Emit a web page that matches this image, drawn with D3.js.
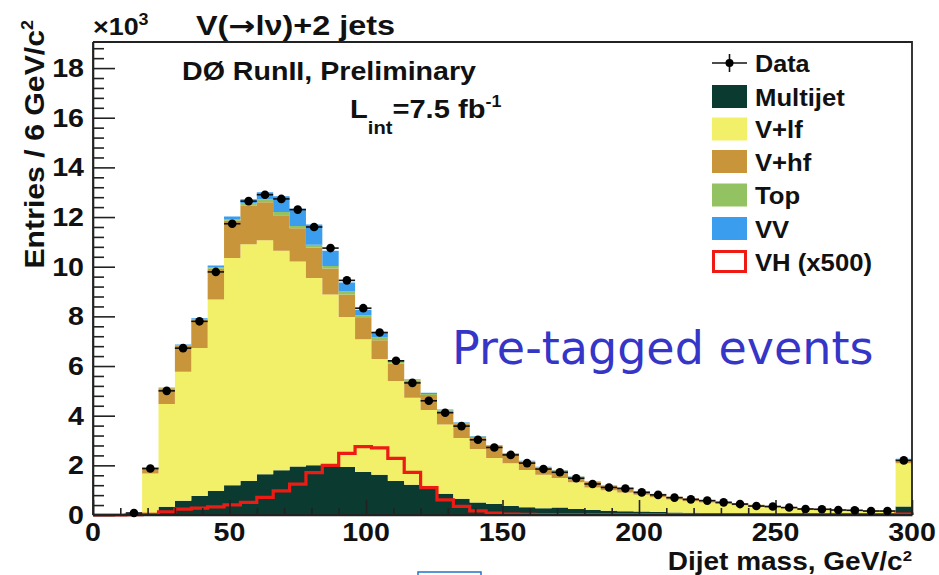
<!DOCTYPE html>
<html>
<head>
<meta charset="utf-8">
<script src="https://cdn.jsdelivr.net/npm/d3@7"></script>
<style>
  html, body { margin: 0; padding: 0; background: #fff; }
  svg { display: block; }
  text { font-family: "Liberation Sans", Arial, Helvetica, sans-serif; }
</style>
</head>
<body>
<svg id="chart" width="939" height="575"></svg>
<script>
// ---------------- DATA (thousands of entries per 6 GeV bin) ----------------
const binLow = [0,6,12,18,24,30,36,42,48,54,60,66,72,78,84,90,96,102,108,114,
  120,126,132,138,144,150,156,162,168,174,180,186,192,198,204,210,216,222,228,234,
  240,246,252,258,264,270,276,282,288,294];
const binWidth = 6;

const multijet = [0,0,0,0.03,0.33,0.57,0.77,0.97,1.20,1.37,1.64,1.80,1.95,2.00,2.04,1.93,1.73,1.62,1.37,1.22,
  1.07,0.86,0.65,0.50,0.44,0.36,0.31,0.27,0.30,0.24,0.20,0.17,0.15,0.14,0.12,0.10,0.09,0.08,0.07,0.06,
  0.05,0.05,0.04,0.04,0.03,0.03,0.03,0.02,0.02,0.34];
const vlf = [0,0,0.03,1.64,4.14,5.20,5.96,7.71,9.15,9.53,9.43,8.84,8.26,7.55,6.84,6.04,5.35,4.66,4.03,3.50,
  3.16,2.78,2.45,2.16,1.86,1.72,1.50,1.35,1.19,1.08,0.91,0.83,0.76,0.68,0.59,0.52,0.46,0.42,0.37,0.33,
  0.29,0.26,0.23,0.19,0.18,0.16,0.14,0.13,0.12,1.74];
const vhf = [0,0,0,0.23,0.63,1.04,1.11,1.24,1.50,1.55,1.53,1.43,1.34,1.22,1.05,0.91,0.85,0.76,0.70,0.69,
  0.60,0.56,0.60,0.48,0.49,0.40,0.35,0.30,0.30,0.22,0.23,0.18,0.18,0.13,0.14,0.12,0.11,0.10,0.09,0.08,
  0.07,0.06,0.05,0.05,0.04,0.03,0.03,0.03,0.03,0.17];
const topq = [0,0,0,0.01,0.02,0.03,0.03,0.05,0.07,0.10,0.12,0.13,0.09,0.11,0.10,0.12,0.11,0.11,0.06,0.04,
  0.04,0.02,0.02,0.02,0.01,0.01,0.01,0.01,0.01,0.01,0.01,0.01,0.01,0.01,0.01,0,0,0,0,0,
  0,0,0,0,0,0,0,0,0,0.01];
const vv = [0,0,0,0.01,0.02,0.03,0.05,0.08,0.10,0.17,0.28,0.64,0.69,0.82,0.61,0.36,0.23,0.20,0.06,0.02,
  0.05,0.03,0.02,0.02,0.02,0.01,0.01,0.01,0.01,0.01,0.01,0.01,0.01,0.01,0,0,0,0,0,0,
  0,0,0,0,0,0,0,0,0,0.01];
const vh500 = [0,0,0.01,0.03,0.13,0.24,0.28,0.33,0.41,0.51,0.71,0.97,1.24,1.71,2.00,2.48,2.75,2.70,2.28,1.72,
  1.10,0.61,0.35,0.17,0.08,0.04,0.03,0.02,0.02,0.02,0.02,0.02,0.02,0.02,0.02,0.02,0.02,0.02,0.02,0.02,
  0.02,0.02,0.02,0.02,0.02,0.02,0.02,0.02,0.02,0.04];
const dataVals = [0,0,0.08,1.87,5.00,6.72,7.80,9.79,11.73,12.64,12.90,12.73,12.30,11.60,10.75,9.45,8.33,7.35,6.21,5.32,
  4.60,4.12,3.58,3.03,2.72,2.42,2.09,1.85,1.72,1.48,1.25,1.11,1.07,0.91,0.81,0.70,0.63,0.58,0.51,0.44,
  0.36,0.34,0.30,0.24,0.23,0.20,0.19,0.16,0.16,2.20];

const seriesKeys   = ["multijet", "vlf", "vhf", "top", "vv"];
const seriesNames  = ["Multijet", "V+lf", "V+hf", "Top", "VV"];
const seriesColors = ["#0b3a31", "#f2ef68", "#c9953b", "#93c262", "#3a9ded"];
const legendLabels = ["Data", "Multijet", "V+lf", "V+hf", "Top", "VV", "VH (x500)"];

const xTicks = [0, 50, 100, 150, 200, 250, 300];
const xMinor = [10,20,30,40,60,70,80,90,110,120,130,140,160,170,180,190,210,220,230,240,260,270,280,290];
const yTicks = [0, 2, 4, 6, 8, 10, 12, 14, 16, 18];

// ---------------- LAYOUT ----------------
const svg = d3.select("#chart");
const L = 93, R = 912, T = 42, B = 515;
const x = d3.scaleLinear().domain([0, 300]).range([L, R]);
const y = d3.scaleLinear().domain([0, 19.05]).range([B, T]);

function label(parent, px, py, str, o) {
  o = o || {};
  const t = parent.append("text")
    .attr("transform", `translate(${px},${py})` + (o.rot ? ` rotate(${o.rot})` : "") + ` scale(${o.sx || 1},1)`)
    .attr("text-anchor", o.anchor || "start")
    .attr("font-size", o.size || 24)
    .attr("font-weight", o.weight || "bold")
    .attr("fill", o.fill || "#111");
  if (o.family) t.style("font-family", o.family);
  if (typeof str === "string") t.text(str);
  else str.forEach(p => {
    const s = t.append("tspan").text(p.t);
    if (p.size) s.attr("font-size", p.size);
    if (p.dy !== undefined) s.attr("dy", p.dy);
    if (p.dx !== undefined) s.attr("dx", p.dx);
    if (p.family) s.style("font-family", p.family);
  });
  return t;
}

// ---------------- STACKED HISTOGRAM ----------------
const bins = binLow.map((lo, i) => ({
  lo, hi: lo + binWidth,
  multijet: multijet[i], vlf: vlf[i], vhf: vhf[i], top: topq[i], vv: vv[i]
}));
const stack = d3.stack().keys(seriesKeys)(bins);

const area = d3.area()
  .x(d => x(d.x)).y0(d => y(d.y0)).y1(d => y(d.y1));

const gStack = svg.append("g");
stack.forEach((layer, k) => {
  const pts = [];
  layer.forEach((s, i) => {
    pts.push({ x: bins[i].lo, y0: s[0], y1: s[1] });
    pts.push({ x: bins[i].hi, y0: s[0], y1: s[1] });
  });
  gStack.append("path")
    .attr("d", area(pts))
    .attr("fill", seriesColors[k])
    .attr("stroke", "none");
});

// ---------------- VH (x500) OUTLINE ----------------
const vhPts = [{ x: 0, v: 0 }];
binLow.forEach((lo, i) => {
  vhPts.push({ x: lo, v: vh500[i] });
  vhPts.push({ x: lo + binWidth, v: vh500[i] });
});
vhPts.push({ x: 300, v: 0 });
svg.append("path")
  .attr("d", d3.line().x(d => x(d.x)).y(d => y(d.v))(vhPts))
  .attr("fill", "none")
  .attr("stroke", "#ee1a14")
  .attr("stroke-width", 3.2)
  .attr("stroke-linejoin", "miter");

// ---------------- AXES / FRAME ----------------
const axisColor = "#222";
const gx = svg.append("g").attr("transform", `translate(0,${B})`);
gx.call(d3.axisTop(x).tickValues(xTicks).tickSize(15).tickSizeOuter(0).tickFormat(""));
const gxm = svg.append("g").attr("transform", `translate(0,${B})`);
gxm.call(d3.axisTop(x).tickValues(xMinor).tickSize(7).tickSizeOuter(0).tickFormat(""));
gxm.select(".domain").remove();

const yMinor = [];
for (let k = 0; k < yTicks.length; k++) {
  [0.4, 0.8, 1.2, 1.6].forEach(f => { if (yTicks[k] + f < 19.05) yMinor.push(+(yTicks[k] + f).toFixed(1)); });
}
const gy = svg.append("g").attr("transform", `translate(${L},0)`);
gy.call(d3.axisRight(y).tickValues(yTicks).tickSize(22).tickSizeOuter(0).tickFormat(""));
const gym = svg.append("g").attr("transform", `translate(${L},0)`);
gym.call(d3.axisRight(y).tickValues(yMinor).tickSize(11).tickSizeOuter(0).tickFormat(""));
gym.select(".domain").remove();

svg.selectAll(".domain, .tick line").attr("stroke", axisColor).attr("stroke-width", 1.6);

// frame top and right
svg.append("path")
  .attr("d", `M${L},${T}H${R}V${B}`)
  .attr("fill", "none").attr("stroke", axisColor).attr("stroke-width", 1.8);
svg.append("line").attr("x1", L).attr("x2", R).attr("y1", B).attr("y2", B)
  .attr("stroke", axisColor).attr("stroke-width", 1.8);
svg.append("line").attr("x1", L).attr("x2", L).attr("y1", T).attr("y2", B)
  .attr("stroke", axisColor).attr("stroke-width", 1.8);

// ---------------- DATA POINTS ----------------
const gData = svg.append("g");
binLow.forEach((lo, i) => {
  const v = dataVals[i];
  if (v <= 0) return;
  const cx = x(lo + binWidth / 2), cy = y(v);
  const err = Math.sqrt(v * 1000) / 1000;
  gData.append("line").attr("x1", x(lo)).attr("x2", x(lo + binWidth))
    .attr("y1", cy).attr("y2", cy).attr("stroke", "#111").attr("stroke-width", 1.6);
  gData.append("line").attr("x1", cx).attr("x2", cx)
    .attr("y1", y(v + err)).attr("y2", y(Math.max(0, v - err)))
    .attr("stroke", "#111").attr("stroke-width", 1.6);
  gData.append("circle").attr("cx", cx).attr("cy", cy).attr("r", 4.3).attr("fill", "#000");
});

// ---------------- TICK LABELS ----------------
yTicks.forEach(v => label(svg, 84, y(v) + 9, String(v), { size: 26, anchor: "end", sx: 1.1 }));
xTicks.forEach(v => label(svg, x(v), 541, String(v), { size: 26, anchor: "middle", sx: 1.1 }));

// axis titles
label(svg, 912, 570, [{ t: "Dijet mass, GeV/c" }, { t: "2", size: 15, dy: -9 }],
  { size: 25, anchor: "end", sx: 1.12 });
label(svg, 44, 20, [{ t: "Entries / 6 GeV/c" }, { t: "2", size: 16, dy: -11 }],
  { size: 27, anchor: "end", sx: 1.12, rot: -90 });

// exponent and header texts
label(svg, 93, 35, [{ t: "\u00d710" }, { t: "3", size: 16, dy: -10 }], { size: 24, sx: 1.12 });
label(svg, 196, 35, [
  { t: "V(" }, { t: "\u2192", family: "'DejaVu Sans', sans-serif" }, { t: "l\u03bd)+2 jets" }
], { size: 27, sx: 1.2 });
label(svg, 182, 80, "D\u00d8 RunII, Preliminary", { size: 26, sx: 1.1 });
label(svg, 350, 118, [
  { t: "L" }, { t: "int", size: 18, dy: 16 }, { t: "=7.5 fb", dy: -16 }, { t: "-1", size: 16, dy: -11 }
], { size: 26, sx: 1.12 });

// big annotation
label(svg, 452, 364, "Pre-tagged events",
  { size: 46, weight: "normal", fill: "#3535c8", family: "'DejaVu Sans', Verdana, sans-serif", sx: 1.0 });

// ---------------- LEGEND ----------------
const legX = 712, legW = 35, legH = 23, legTxt = 755;
const rowY = [63, 96.5, 129, 161.5, 195, 228.5, 261.5];
const gLeg = svg.append("g");
// Data entry
gLeg.append("line").attr("x1", legX).attr("x2", legX + legW).attr("y1", rowY[0]).attr("y2", rowY[0])
  .attr("stroke", "#111").attr("stroke-width", 1.6);
gLeg.append("line").attr("x1", legX + legW / 2).attr("x2", legX + legW / 2)
  .attr("y1", rowY[0] - 9).attr("y2", rowY[0] + 9).attr("stroke", "#111").attr("stroke-width", 1.6);
gLeg.append("circle").attr("cx", legX + legW / 2).attr("cy", rowY[0]).attr("r", 4).attr("fill", "#000");
label(gLeg, legTxt, rowY[0] + 9, legendLabels[0], { size: 24, sx: 1.05 });
seriesNames.forEach((n, k) => {
  gLeg.append("rect").attr("x", legX).attr("y", rowY[k + 1] - legH / 2)
    .attr("width", legW).attr("height", legH).attr("fill", seriesColors[k]);
  label(gLeg, legTxt, rowY[k + 1] + 9, legendLabels[k + 1], { size: 24, sx: 1.07 });
});
gLeg.append("rect").attr("x", legX + 1.5).attr("y", rowY[6] - legH / 2 + 1.5)
  .attr("width", legW - 3).attr("height", legH - 3)
  .attr("fill", "#fff").attr("stroke", "#ee1a14").attr("stroke-width", 3);
label(gLeg, legTxt, rowY[6] + 9, legendLabels[6], { size: 24, sx: 1.07 });

// slide artefact at the bottom edge
svg.append("rect").attr("x", 418).attr("y", 572).attr("width", 63).attr("height", 10)
  .attr("fill", "#fff").attr("stroke", "#1f74c8").attr("stroke-width", 1.5);
</script>
</body>
</html>
